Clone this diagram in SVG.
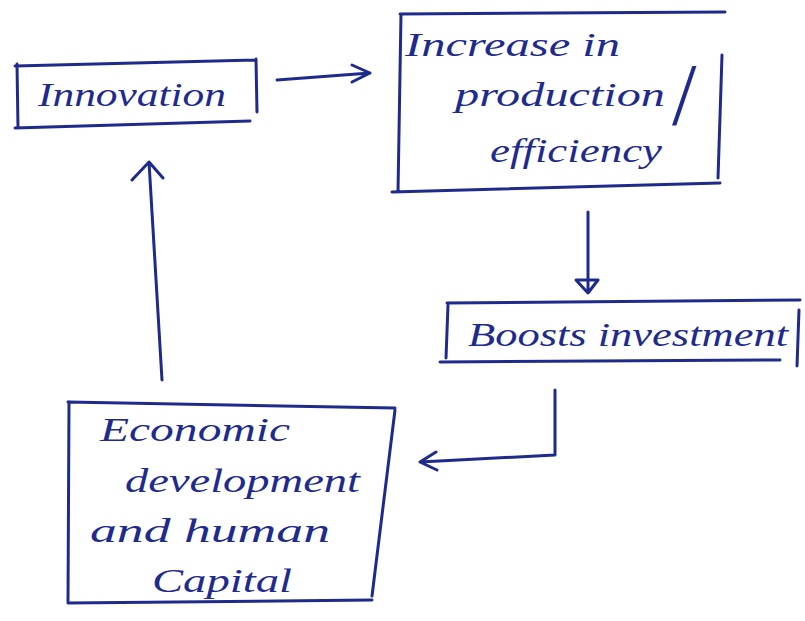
<svg xmlns="http://www.w3.org/2000/svg" width="805" height="621" viewBox="0 0 805 621">
<style>
.ink{fill:none;stroke:#1f2b8c;stroke-width:3;stroke-linecap:round;stroke-linejoin:round}
.t{font-family:"Liberation Serif",serif;font-style:italic;fill:#1f2b8c;font-size:34px}
</style>
<rect width="805" height="621" fill="#ffffff"/>
<g id="innovation">
<path class="ink" d="M15,66 L255,60 M17,64 L18,128 M15,128 L250,121 M256,59 L257,112"/>
<text class="t" x="38" y="106" textLength="188" lengthAdjust="spacingAndGlyphs">Innovation</text>
</g>
<g id="increase">
<path class="ink" d="M400,14 L725,12 M401,14 L398,192 M392,192 L720,183 M722,55 Q720,120 718,178"/>
<text class="t" x="405" y="56" textLength="215" lengthAdjust="spacingAndGlyphs">Increase in</text>
<text class="t"><tspan x="455" y="106" textLength="210" lengthAdjust="spacingAndGlyphs">production</tspan><tspan x="650" y="124" style="font-size:88px;font-style:normal;font-weight:300"> /</tspan></text>
<text class="t" x="490" y="162" textLength="172" lengthAdjust="spacingAndGlyphs">efficiency</text>
</g>
<g id="boosts">
<path class="ink" d="M447,303 L800,300 M448,305 L446,358 M440,362 L780,360 M799,310 L797,366"/>
<text class="t" x="468" y="346" textLength="320" lengthAdjust="spacingAndGlyphs">Boosts investment</text>
</g>
<g id="economic">
<path class="ink" d="M68,402 L395,408 M69,402 L68,602 M68,603 L372,600 M395,410 L372,596"/>
<text class="t" x="100" y="441" textLength="190" lengthAdjust="spacingAndGlyphs">Economic</text>
<text class="t" x="125" y="492" textLength="235" lengthAdjust="spacingAndGlyphs">development</text>
<text class="t" x="90" y="542" textLength="240" lengthAdjust="spacingAndGlyphs">and human</text>
<text class="t" x="152" y="592" textLength="140" lengthAdjust="spacingAndGlyphs">Capital</text>
</g>
<g id="connectors">
<path class="ink" d="M277,80 L370,73 M352,65 L370,73 L352,82"/>
<path class="ink" d="M588,212 L588,292 M576,280 L588,293 L598,280 Z"/>
<path class="ink" d="M555,390 L555,455 L420,462 M436,452 L420,462 L437,470"/>
<path class="ink" d="M162,380 L149,162 M132,180 L149,162 L163,178"/>
</g>
</svg>
